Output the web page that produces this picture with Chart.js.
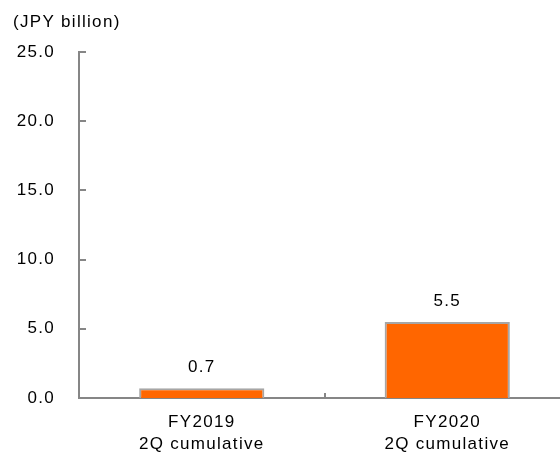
<!DOCTYPE html>
<html>
<head>
  <title>Profit chart</title>
  <script src="https://cdn.jsdelivr.net/npm/chart.js"></script>
  <style>
    body {
      margin: 0;
      padding: 0;
      background: #fff;
      overflow: hidden;
    }
    #chart {
      display: block;
    }
  </style>
</head>
<body>
  <canvas id="chart" width="570" height="452"></canvas>

  <script>
    const categories = [['FY2019', '2Q cumulative'], ['FY2020', '2Q cumulative']];
    const values = [0.7, 5.5];
    const yTicks = [0, 5, 10, 15, 20, 25];
    const unitLabel = '(JPY billion)';

    const axisGray = '#868686';
    const fontFamily = "'Liberation Sans', Arial, sans-serif";
    const letterGap = '1.3px';

    // inward tick marks on both axes
    const tickMarks = {
      id: 'tickMarks',
      afterDraw(chart) {
        const ctx = chart.ctx;
        const x = chart.scales.x, y = chart.scales.y;
        ctx.save();
        ctx.strokeStyle = axisGray;
        ctx.lineWidth = 2;
        ctx.beginPath();
        yTicks.forEach(v => {
          const py = Math.round(y.getPixelForValue(v));
          ctx.moveTo(x.left, py);
          ctx.lineTo(x.left + 7, py);
        });
        for (let i = 0; i < categories.length - 1; i++) {
          const px = Math.round((x.getPixelForValue(i) + x.getPixelForValue(i + 1)) / 2);
          ctx.moveTo(px, y.bottom);
          ctx.lineTo(px, y.bottom - 5);
        }
        ctx.stroke();
        ctx.restore();
      }
    };

    // value labels above the bars
    const valueLabels = {
      id: 'valueLabels',
      afterDatasetsDraw(chart) {
        const ctx = chart.ctx;
        const meta = chart.getDatasetMeta(0);
        ctx.save();
        ctx.font = '17px ' + fontFamily;
        ctx.fillStyle = '#000';
        ctx.textAlign = 'center';
        ctx.textBaseline = 'middle';
        meta.data.forEach((bar, i) => {
          ctx.fillText(values[i].toFixed(1), bar.x, bar.y - 21);
        });
        ctx.restore();
      }
    };

    // the reference text is a little wide, so space the letters out
    const spacing = {
      id: 'spacing',
      beforeUpdate(chart) { chart.ctx.letterSpacing = letterGap; },
      beforeLayout(chart) { chart.ctx.letterSpacing = letterGap; },
      beforeDraw(chart) { chart.ctx.letterSpacing = letterGap; }
    };

    new Chart(document.getElementById('chart'), {
      type: 'bar',
      data: {
        labels: categories,
        datasets: [{
          data: values,
          backgroundColor: '#ff6600',
          borderColor: '#a6a6a6',
          borderWidth: 2,
          categoryPercentage: 1,
          barPercentage: 0.51
        }]
      },
      options: {
        responsive: false,
        animation: false,
        layout: { padding: { left: 13, right: 0, top: 0, bottom: 0 } },
        plugins: {
          legend: { display: false },
          tooltip: { enabled: false },
          title: {
            display: true,
            text: unitLabel,
            align: 'start',
            color: '#000',
            font: { family: fontFamily, size: 17, weight: 'normal' },
            padding: { top: 12, bottom: 19.6 }
          }
        },
        scales: {
          x: {
            grid: { display: false, drawTicks: false },
            border: { color: axisGray, width: 2 },
            ticks: {
              color: '#000',
              padding: 13,
              maxRotation: 0,
              font: { family: fontFamily, size: 17, lineHeight: 1.3 }
            },
            afterFit(scale) { scale.height = 54; }
          },
          y: {
            min: 0,
            max: 25,
            grid: { display: false, drawTicks: false },
            border: { color: axisGray, width: 2 },
            afterBuildTicks(scale) {
              scale.ticks = yTicks.map(v => ({ value: v }));
            },
            ticks: {
              color: '#000',
              padding: 24,
              font: { family: fontFamily, size: 17 },
              callback: v => Number(v).toFixed(1)
            },
            afterFit(scale) { scale.width = 66; }
          }
        }
      },
      plugins: [spacing, tickMarks, valueLabels]
    });
  </script>
</body>
</html>
